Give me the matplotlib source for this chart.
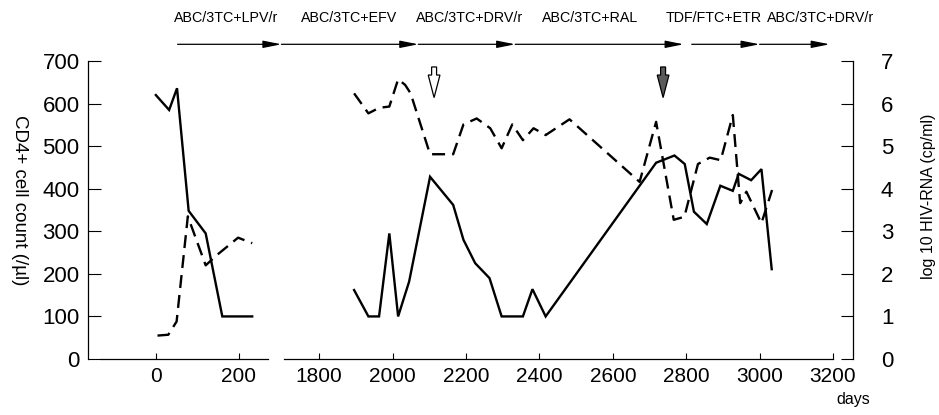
import matplotlib
matplotlib.use("Agg")
import matplotlib.pyplot as plt

plt.rcParams['font.family'] = ['Liberation Sans', 'DejaVu Sans']

# CD4 counts (solid) and viral load (dashed), early period
cd4_days_early = [0, 32, 51, 79, 120, 160, 232]
cd4_early = [620, 585, 636, 348, 295, 100, 100]
rna_days_early = [4, 30, 50, 77, 120, 148, 198, 232]
rna_early = [0.55, 0.57, 0.88, 3.35, 2.2, 2.45, 2.85, 2.72]

# later period
cd4_days_late = [1895, 1934, 1963, 1991, 2015, 2045, 2102, 2165, 2193, 2225, 2264,
                 2297, 2355, 2381, 2417, 2718, 2768, 2796, 2821, 2856, 2893, 2927,
                 2943, 2977, 3005, 3033]
cd4_late = [162, 100, 100, 295, 100, 182, 428, 362, 280, 225, 190,
            100, 100, 164, 100, 461, 478, 458, 346, 317, 407, 395,
            435, 420, 446, 211]
rna_days_late = [1895, 1934, 1963, 1991, 2015, 2034, 2049, 2102, 2165, 2193, 2229,
                 2266, 2297, 2326, 2355, 2384, 2417, 2482, 2673, 2718, 2766, 2795,
                 2832, 2864, 2894, 2927, 2947, 2964, 3005, 3034]
rna_late = [6.24, 5.77, 5.90, 5.93, 6.57, 6.44, 6.24, 4.81, 4.81, 5.51, 5.65,
            5.42, 4.95, 5.51, 5.14, 5.42, 5.26, 5.63, 4.16, 5.57, 3.27, 3.34,
            4.58, 4.73, 4.67, 5.73, 3.66, 3.93, 3.19, 3.97]

# regimens (arrow chains drawn above the plot, in day units of the later axis)
regimens = ['ABC/3TC+LPV/r', 'ABC/3TC+EFV', 'ABC/3TC+DRV/r', 'ABC/3TC+RAL',
            'TDF/FTC+ETR', 'ABC/3TC+DRV/r']
regimen_label_x = [1546, 1882, 2211, 2538, 2874, 3166]
regimen_segments = [(1414, 1697), (1697, 2070), (2070, 2334), (2334, 2793),
                    (2815, 3000), (3000, 3191)]

# event markers (open and filled down arrows)
event_days = [2113, 2737]
event_fill = ['white', '#5a5a5a']

W, H = 939, 415
fig = plt.figure(figsize=(W / 100, H / 100), dpi=100)

ax1 = fig.add_axes([101 / W, 1 - 359 / H, 167 / W, 298 / H])
ax2 = fig.add_axes([284 / W, 1 - 359 / H, 549 / W, 298 / H])
ax1r = ax1.twinx()
ax2r = ax2.twinx()

lw = 1.7
dash = (5.5, 3)

ax1.plot(cd4_days_early, cd4_early, color='black', lw=lw, solid_joinstyle='miter')
ax1r.plot(rna_days_early, rna_early, color='black', lw=lw, dashes=dash)
ax2.plot(cd4_days_late, cd4_late, color='black', lw=lw, solid_joinstyle='miter')
ax2r.plot(rna_days_late, rna_late, color='black', lw=lw, dashes=dash)

for a in (ax1, ax2):
    a.set_ylim(0, 700)
for a in (ax1r, ax2r):
    a.set_ylim(0, 7)
ax1.set_xlim(-132, 270)
ax2.set_xlim(1704, 3200)

# left segment: left y axis
for s in ('top', 'right'):
    ax1.spines[s].set_visible(False)
ax1.spines['left'].set_position(('outward', 9.4))
ax1.set_yticks(range(0, 701, 100))
ax1.set_xticks([0, 200])
ax1.tick_params(axis='y', direction='in', length=9, labelsize=16, pad=6, width=0.8)
ax1.tick_params(axis='x', direction='in', length=4, labelsize=15, pad=6, width=0.8)
for s in ax1r.spines.values():
    s.set_visible(False)
ax1r.set_yticks([])

# right segment
for s in ('top', 'left', 'right'):
    ax2.spines[s].set_visible(False)
ax2.set_yticks([])
ax2.set_xticks(range(1800, 3201, 200))
ax2.tick_params(axis='x', direction='in', length=4, labelsize=15, pad=6, width=0.8)
for s in ('top', 'left', 'bottom'):
    ax2r.spines[s].set_visible(False)
ax2r.spines['right'].set_position(('outward', 14.4))
ax2r.set_yticks(range(0, 8))
ax2r.tick_params(axis='y', direction='in', length=8.5, labelsize=16, pad=20, width=0.8)

for a in (ax1, ax2, ax2r):
    for s in a.spines.values():
        s.set_linewidth(0.9)

fig.text(19 / W, 1 - 200 / H, 'CD4+ cell count (/\u00b5l)', rotation=270,
         ha='center', va='center', fontsize=13.5)
fig.text(928 / W, 1 - 196 / H, 'log 10 HIV-RNA (cp/ml)', rotation=90,
         ha='center', va='center', fontsize=11.5)
fig.text(853 / W, 1 - 399 / H, 'days', ha='center', va='center', fontsize=11.5)

# regimen arrows and labels
arrow_y = 1 - 44.3 / H
for x0, x1 in regimen_segments:
    ax2.annotate('', xy=(x1, arrow_y), xytext=(x0, arrow_y),
                 xycoords=('data', 'figure fraction'),
                 textcoords=('data', 'figure fraction'),
                 annotation_clip=False,
                 arrowprops=dict(arrowstyle='-|>,head_length=1.1,head_width=0.22',
                                 color='black', lw=0.9, shrinkA=0, shrinkB=0))
for name, x in zip(regimens, regimen_label_x):
    ax2.annotate(name, xy=(x, 1 - 18 / H), xycoords=('data', 'figure fraction'),
                 ha='center', va='center', fontsize=10.3, annotation_clip=False)

# event arrows
for d, fc in zip(event_days, event_fill):
    ax2.arrow(d, 686, 0, -72, width=13.5, head_width=32, head_length=53,
              length_includes_head=True, fc=fc, ec='black', lw=0.9, clip_on=False)

fig.savefig('out.png', dpi=100)
